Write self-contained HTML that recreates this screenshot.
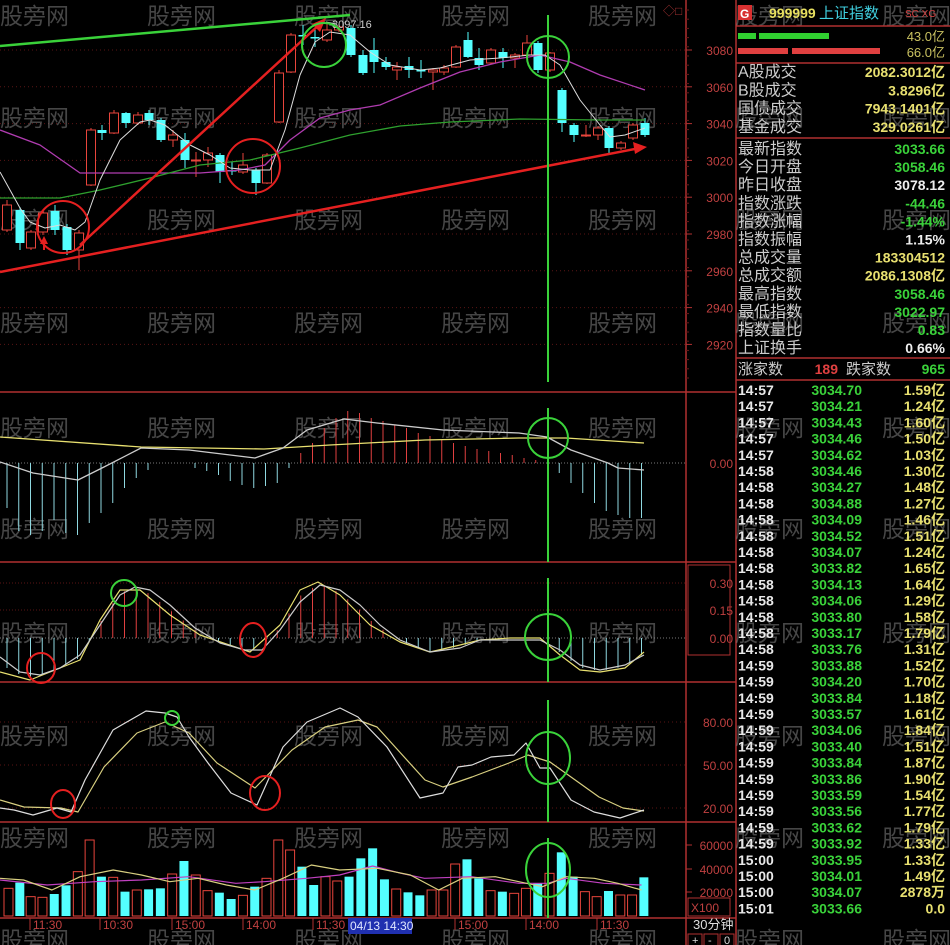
<!DOCTYPE html>
<html><head><meta charset="utf-8"><style>
html,body{margin:0;padding:0;background:#000;width:950px;height:945px;overflow:hidden}
svg{display:block}
text{font-family:"Liberation Sans","Noto Sans CJK SC",sans-serif}
</style></head><body>
<svg id="s" width="950" height="945" viewBox="0 0 950 945" xmlns="http://www.w3.org/2000/svg">
<rect width="950" height="945" fill="#000"/>
<g id="g"></g>
</svg>
<script>
var NS="http://www.w3.org/2000/svg",G=document.getElementById('g');
function el(t,a,txt){var e=document.createElementNS(NS,t);for(var k in a)e.setAttribute(k,a[k]);if(txt!=null)e.textContent=txt;G.appendChild(e);return e;}
function line(x1,y1,x2,y2,c,w,d){var a={x1:x1,y1:y1,x2:x2,y2:y2,stroke:c,'stroke-width':w||1};if(d)a['stroke-dasharray']=d;return el('line',a);}
function poly(p,c,w){return el('polyline',{points:p.map(function(q){return q.join(',')}).join(' '),fill:'none',stroke:c,'stroke-width':w||1,'stroke-linejoin':'round'});}
function txt(x,y,s,c,sz,anc,wt,ff){var a={x:x,y:y,fill:c,'font-size':sz||12,'text-anchor':anc||'start','font-weight':wt||'normal'};if(ff)a['font-family']=ff;return el('text',a,s);}
function interp(p,x){for(var i=0;i<p.length-1;i++){if(x>=p[i][0]&&x<=p[i+1][0]){var t=(x-p[i][0])/(p[i+1][0]-p[i][0]);return p[i][1]+t*(p[i+1][1]-p[i][1]);}}return x<p[0][0]?p[0][1]:p[p.length-1][1];}
var RED='#e8453c',CY='#54ffff',DR='#8a1f1f',AX='#b03030';
var MONO='"Liberation Mono","Noto Sans CJK SC",monospace';
[392,562,682,822,918].forEach(function(y){line(0,y,736,y,AX,1.5);});
line(686,0,686,945,AX,1.5);line(736,0,736,945,AX,1.5);
for(var p=3080;p>=2920;p-=20){var y=50+(3080-p)*1.84;line(0,y,686,y,'#5a1515',1,'1,3');txt(733,y+5,String(p),'#c04040',12,'end');line(686,y,692,y,AX,1);}
for(var y=10;y<380;y+=9.2){line(686,y,689,y,'#6a1a1a',1);}
[[463,'0.00']].forEach(function(a){line(0,a[0],686,a[0],'#777',1,'1,2');txt(733,a[0]+5,a[1],'#c04040',12,'end');});
[[583,'0.30'],[610,'0.15'],[638,'0.00']].forEach(function(a){line(0,a[0],686,a[0],a[1]=='0.00'?'#777':'#5a1515',1,'1,2');txt(733,a[0]+5,a[1],'#c04040',12,'end');});
[[722,'80.00'],[765,'50.00'],[808,'20.00']].forEach(function(a){line(0,a[0],686,a[0],'#5a1515',1,'1,3');txt(733,a[0]+5,a[1],'#c04040',12,'end');});
[[845,'60000'],[869,'40000'],[892,'20000']].forEach(function(a){txt(733,a[0]+5,a[1],'#c04040',12,'end');line(686,a[0],692,a[0],AX,1);});
el('rect',{x:688,y:898,width:42,height:18,fill:'none',stroke:AX,'stroke-width':1});txt(691,912,'X100','#c04040',12);
el('rect',{x:688,y:565,width:42,height:90,fill:'none',stroke:AX,'stroke-width':1});
[13,115,217,320,425,526,630,733,835,937].forEach(function(y){[0,147,294,441,588,735,882].forEach(function(x){txt(x,y+11,'股旁网','rgba(140,140,140,0.5)',23);});});
var C=[[7,'r',205,230,200,232],[20,'c',210,243,207,250],[31,'r',232,248,230,250],[43,'r',213,232,210,235],[55,'c',211,230,205,235],[67,'c',227,250,224,255],[79,'r',233,250,230,270],[91,'r',130,185,128,186],[102,'c',130,133,125,140],[114,'r',113,133,110,134],[126,'c',113,123,112,128],[138,'r',115,123,112,125],[149,'c',113,120,110,125],[161,'c',120,140,118,142],[173,'r',135,140,130,147],[185,'c',140,160,133,168],[196,'r',160,161,152,177],[208,'r',153,160,147,167],[220,'c',155,172,153,183],[232,'c',170,171,162,175],[243,'r',165,172,153,174],[256,'c',170,183,168,195],[267,'r',155,183,153,184],[279,'r',73,122,70,123],[291,'r',35,72,33,73],[303,'c',35,36,25,45],[315,'c',37,38,30,47],[327,'r',30,40,22,42],[339,'r',27,30,24,32],[351,'c',28,55,25,57],[363,'c',55,73,50,75],[374,'c',50,62,38,73],[386,'c',62,67,57,70],[397,'r',67,70,62,80],[409,'c',66,70,57,78],[421,'c',70,71,60,78],[433,'r',70,72,68,90],[444,'r',68,72,65,75],[456,'r',47,67,45,68],[468,'c',40,57,32,58],[479,'c',58,65,48,70],[491,'r',50,63,48,64],[503,'c',52,58,48,68],[515,'r',55,58,53,68],[527,'r',43,55,35,56],[538,'c',43,70,41,73],[550,'r',53,70,52,72],[562,'c',90,123,88,132],[574,'c',125,135,123,142],[586,'r',135,136,125,137],[598,'r',128,135,126,140],[609,'c',128,148,126,155],[621,'r',143,148,141,150],[633,'r',125,138,123,140],[645,'c',123,135,118,137]];
C.forEach(function(c){var col=c[1]=='r'?RED:CY;line(c[0],c[4],c[0],c[5],col,1);
 if(c[1]=='r')el('rect',{x:c[0]-4.5,y:c[2],width:9,height:Math.max(c[3]-c[2],1),fill:'#000',stroke:col,'stroke-width':1});
 else el('rect',{x:c[0]-4.5,y:c[2],width:9,height:Math.max(c[3]-c[2],1.5),fill:col});});
poly([[0,130],[40,145],[80,173],[120,173],[200,173],[240,170],[265,165],[290,140],[320,118],[350,110],[380,105],[420,88],[460,72],[500,62],[540,55],[570,62],[600,75],[645,90]],'#b03cb0',1.3);
poly([[0,198],[60,198],[100,190],[150,178],[200,165],[250,160],[300,148],[350,135],[400,126],[450,122],[520,119],[600,120],[645,120]],'#2ea02e',1.3);
poly([[0,172],[10,190],[20,208],[30,222],[45,228],[60,225],[75,230],[85,222],[100,180],[120,140],[140,122],[150,120],[165,125],[190,145],[210,155],[230,168],[250,170],[270,170],[285,130],[300,75],[315,42],[330,32],[350,35],[370,52],[390,65],[420,70],[440,68],[470,60],[500,58],[530,55],[545,55],[560,65],[580,100],[600,125],[610,137],[625,135],[645,128]],'#ddd',1);
line(0,46,350,15,'#3ad23a',2.5);
line(0,272,640,148,'#e52020',2.5);el('polygon',{points:'647,147 633,142 635,154',fill:'#e52020'});
line(80,245,320,24,'#e52020',2.5);el('polygon',{points:'326,18 312,24 320,32',fill:'#e52020'});
el('polygon',{points:'44,236 40,244 48,244',fill:'#e52020'});line(44,244,44,250,'#e52020',2);
txt(332,28,'3097.16','#ccc',11);line(326,22,336,24,'#ccc',1);
function circ(x,y,rx,ry,c,w){el('ellipse',{cx:x,cy:y,rx:rx,ry:ry,fill:'none',stroke:c,'stroke-width':w||2});}
circ(63,227,26,26,'#e52020');circ(253,166,27,27,'#e52020');circ(324,45,22,22,'#3ad23a');circ(548,57,21,21,'#3ad23a');
line(548,15,548,382,'#3ad23a',2);
var H=[-45,-68,-72,-68,-57,-70,-72,-60,-50,-40,-25,-15,-7,0,0,0,-5,-8,-12,-18,-22,-25,-23,-20,-5,10,20,35,45,52,50,45,42,38,35,30,27,24,20,17,14,12,10,8,5,3,-2,-10,-20,-30,-40,-48,-52,-55,-55];
H.forEach(function(h,i){var x=7+i*11.75;if(h!=0)line(x,463,x,463-h,h>0?'#e04040':'#8fd8e0',1);});
poly([[0,437],[141,447],[264,449],[330,445],[425,440],[519,438],[566,438],[644,443]],'#e8e070',1.3);
poly([[0,462],[33,473],[78,480],[104,467],[141,448],[189,450],[255,458],[283,448],[307,430],[344,419],[377,423],[443,430],[519,433],[547,437],[571,450],[608,463],[618,468],[644,470]],'#ccc',1.3);
circ(548,438,20,20,'#3ad23a');line(548,408,548,562,'#3ad23a',2);
var W3=[[0,657],[20,672],[40,675],[60,668],[80,655],[100,625],[120,595],[135,587],[150,590],[170,605],[195,628],[220,643],[245,650],[262,650],[280,630],[300,602],[320,585],[340,590],[360,605],[380,625],[400,640],[430,652],[460,648],[480,640],[510,640],[540,640],[560,650],[580,665],[600,670],[625,665],[644,655]];
var Y3=[[0,672],[30,680],[60,668],[80,660],[100,620],[120,590],[140,590],[170,615],[200,635],[250,652],[280,625],[300,590],[318,582],[340,595],[370,625],[400,642],[430,652],[460,645],[480,640],[510,638],[540,638],[560,655],[580,670],[600,672],[625,668],[644,652]];
for(var i=0;i<55;i++){var x=7+i*11.75;var v=(interp(W3,x)+interp(Y3,x))/2;if(Math.abs(v-638)>2)line(x,638,x,v,v<638?'#e04040':'#8fd8e0',1);}
poly(Y3,'#e8e070',1.2);poly(W3,'#ccc',1.2);
circ(41,668,14,15,'#e52020');circ(124,593,13,13,'#3ad23a');circ(253,640,13,17,'#e52020');circ(548,637,23,23,'#3ad23a');
line(548,578,548,682,'#3ad23a',2);
poly([[0,800],[24,807],[61,808],[78,812],[104,767],[137,733],[165,722],[189,733],[217,763],[255,788],[292,750],[325,727],[358,720],[377,727],[425,780],[443,787],[472,777],[509,763],[528,755],[550,762],[571,777],[599,797],[623,808],[644,811]],'#d8cf80',1.2);
poly([[0,808],[14,810],[33,815],[57,808],[71,812],[85,780],[113,730],[146,711],[165,713],[177,717],[189,737],[208,763],[231,793],[257,805],[283,747],[307,722],[340,708],[358,717],[387,747],[420,798],[443,793],[458,767],[472,765],[491,757],[514,755],[526,743],[540,768],[550,768],[571,800],[594,812],[620,818],[644,810]],'#ddd',1.2);
circ(63,804,12,14,'#e52020');circ(172,718,7,7,'#3ad23a');circ(265,793,15,17,'#e52020');circ(548,758,22,26,'#3ad23a');
line(548,700,548,822,'#3ad23a',2);
var V=[[18,'r',205],[42,'c',188],[65,'r',230],[90,'r',232],[115,'c',222],[140,'c',196],[165,'r',155],[190,'r',60],[215,'c',170],[240,'r',172],[265,'c',215],[290,'r',210],[315,'c',208],[340,'c',205],[365,'r',162],[390,'c',123],[415,'r',165],[440,'r',212],[465,'c',218],[490,'c',237],[515,'r',226],[540,'c',200],[565,'r',175],[590,'r',60],[615,'r',90],[640,'c',140],[665,'c',195],[690,'r',170],[715,'r',183],[740,'c',170],[765,'c',115],[790,'c',85],[815,'c',178],[840,'r',207],[865,'c',217],[890,'c',226],[915,'r',210],[940,'r',210],[965,'r',132],[990,'c',118],[1015,'c',175],[1040,'r',212],[1065,'c',215],[1090,'r',220],[1115,'r',205],[1140,'c',190],[1165,'r',160],[1190,'c',97],[1215,'c',170],[1240,'r',215],[1265,'r',230],[1290,'c',213],[1315,'r',225],[1340,'r',225],[1365,'c',172]];
V.forEach(function(v){var x=v[0]/2.12,y=820+v[2]/3;if(v[1]=='r')el('rect',{x:x-4.5,y:y,width:9,height:916-y,fill:'#000',stroke:RED,'stroke-width':1});else el('rect',{x:x-4.5,y:y,width:9,height:916-y,fill:CY});});
function zp(a){return a.map(function(q){return [q[0]/2.12,820+q[1]/3];});}
poly(zp([[0,180],[100,195],[200,185],[300,180],[400,170],[500,190],[560,185],[650,175],[720,165],[790,138],[850,160],[900,175],[1000,170],[1100,190],[1160,190],[1200,175],[1280,190],[1360,195]]),'#c040c0',1.2);
poly(zp([[0,175],[50,180],[110,210],[170,170],[240,150],[300,165],[360,185],[420,175],[480,195],[540,210],[600,175],[660,135],[720,150],[800,145],[870,165],[930,210],[980,175],[1050,170],[1100,185],[1150,200],[1200,170],[1260,175],[1310,190],[1360,210]]),'#d8cf80',1.2);
circ(548,870,22,27,'#3ad23a');line(548,838,548,918,'#3ad23a',2);
[[30,'11:30'],[100,'10:30'],[172,'15:00'],[243,'14:00'],[313,'11:30'],[455,'15:00'],[526,'14:00'],[597,'11:30']].forEach(function(a){line(a[0],918,a[0],930,AX,1);txt(a[0]+3,929,a[1],'#c04040',12);});
el('rect',{x:348,y:918,width:64,height:16,fill:'#2030b0'});txt(350,930,'04/13 14:30','#dfe6ff',12);
txt(693,929,'30分钟','#ddd',13);
el('rect',{x:688,y:934,width:14,height:12,fill:'none',stroke:AX});el('rect',{x:704,y:934,width:14,height:12,fill:'none',stroke:AX});el('rect',{x:720,y:934,width:14,height:12,fill:'none',stroke:AX});
txt(692,944,'+','#ddd',11);txt(708,944,'-','#ddd',11);txt(724,944,'0','#ddd',11);
txt(663,15,'◇□','#a03030',12);
el('rect',{x:738,y:5,width:14,height:15,fill:'#d83030'});txt(740,18,'G','#fff',12,'start','bold');
txt(769,18,'999999','#e8e060',14,'start','bold');txt(819,18,'上证指数','#40d0e0',15);txt(905,17,'SC XG','#d04040',10);
line(736,26,950,26,AX,1.5);
el('rect',{x:738,y:33,width:18,height:6,fill:'#30d030'});el('rect',{x:759,y:33,width:70,height:6,fill:'#30d030'});
el('rect',{x:738,y:48,width:50,height:6,fill:'#e04040'});el('rect',{x:792,y:48,width:88,height:6,fill:'#e04040'});
txt(945,41,'43.0亿','#c8c060',13,'end');txt(945,57,'66.0亿','#c8c060',13,'end');
line(736,63,950,63,AX,1.5);
var LY='#e8e070',LG='#3ad23a',LW='#eee',LL='#ccc';
[['A股成交','2082.3012亿',LY],['B股成交','3.8296亿',LY],['国债成交','7943.1401亿',LY],['基金成交','329.0261亿',LY]].forEach(function(r,i){var y=77+i*18.3;txt(738,y,r[0],LL,16);txt(945,y,r[1],r[2],14,'end','bold',MONO);});
line(736,138,950,138,AX,1.5);
[['最新指数','3033.66',LG],['今日开盘','3058.46',LG],['昨日收盘','3078.12',LW],['指数涨跌','-44.46',LG],['指数涨幅','-1.44%',LG],['指数振幅','1.15%',LW],['总成交量','183304512',LY],['总成交额','2086.1308亿',LY],['最高指数','3058.46',LG],['最低指数','3022.97',LG],['指数量比','0.83',LG],['上证换手','0.66%',LW]].forEach(function(r,i){var y=154+i*18.1;txt(738,y,r[0],LL,16);txt(945,y,r[1],r[2],14,'end','bold',MONO);});
line(736,358,950,358,AX,1.5);
txt(738,374,'涨家数',LL,15);txt(838,374,'189','#e04040',14,'end','bold',MONO);txt(846,374,'跌家数',LL,15);txt(945,374,'965',LG,14,'end','bold',MONO);
line(736,380,950,380,AX,1.5);
var L=[['14:57','3034.70','1.59亿'],['14:57','3034.21','1.24亿'],['14:57','3034.43','1.60亿'],['14:57','3034.46','1.50亿'],['14:57','3034.62','1.03亿'],['14:58','3034.46','1.30亿'],['14:58','3034.27','1.48亿'],['14:58','3034.88','1.27亿'],['14:58','3034.09','1.46亿'],['14:58','3034.52','1.51亿'],['14:58','3034.07','1.24亿'],['14:58','3033.82','1.65亿'],['14:58','3034.13','1.64亿'],['14:58','3034.06','1.29亿'],['14:58','3033.80','1.58亿'],['14:58','3033.17','1.79亿'],['14:58','3033.76','1.31亿'],['14:59','3033.88','1.52亿'],['14:59','3034.20','1.70亿'],['14:59','3033.84','1.18亿'],['14:59','3033.57','1.61亿'],['14:59','3034.06','1.84亿'],['14:59','3033.40','1.51亿'],['14:59','3033.84','1.87亿'],['14:59','3033.86','1.90亿'],['14:59','3033.59','1.54亿'],['14:59','3033.56','1.77亿'],['14:59','3033.62','1.79亿'],['14:59','3033.92','1.33亿'],['15:00','3033.95','1.33亿'],['15:00','3034.01','1.49亿'],['15:00','3034.07','2878万'],['15:01','3033.66','0.0']];
L.forEach(function(r,i){var y=395+i*16.2;txt(738,y,r[0],'#e8e8e8',14,'start','bold',MONO);txt(862,y,r[1],LG,14,'end','bold',MONO);txt(945,y,r[2],LY,14,'end','bold',MONO);});
</script>
</body></html>
